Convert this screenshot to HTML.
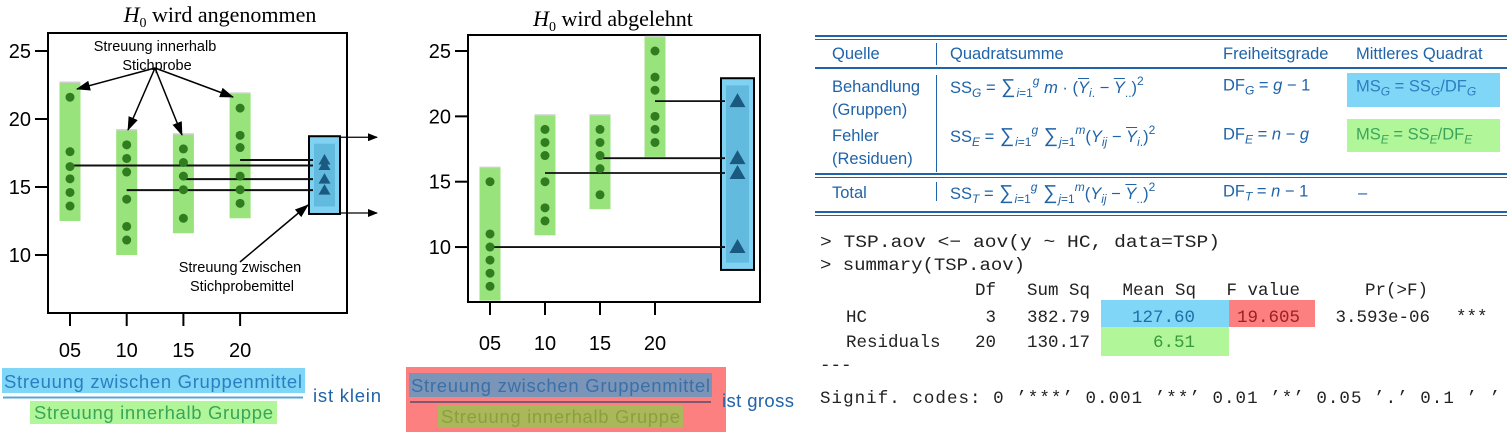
<!DOCTYPE html>
<html><head><meta charset="utf-8">
<style>
html,body{margin:0;padding:0;background:#fff;}
body{width:1509px;height:437px;position:relative;overflow:hidden;font-family:"Liberation Sans",sans-serif;}
.t{position:absolute;white-space:nowrap;color:#1f63a8;font-size:16.5px;line-height:1;transform:translateY(-50%);}
.t i{font-style:italic;}
.t sub{font-size:12px;vertical-align:-4px;}
.t sup{font-size:12px;vertical-align:8px;}
.t .sg{font-size:20px;margin:0 1px;}
.ov{text-decoration:overline;}
.rule{position:absolute;background:#1f63a8;}
.hl{position:absolute;}
</style></head>
<body>
<svg id="charts" width="1509" height="437" style="position:absolute;left:0;top:0" xmlns="http://www.w3.org/2000/svg">
<defs>
<marker id="ah" markerWidth="10" markerHeight="8" refX="9" refY="4" orient="auto" markerUnits="userSpaceOnUse"><path d="M0,0 L10,4 L0,8 Z" fill="#000"/></marker>
<marker id="ah2" markerWidth="14" markerHeight="10" refX="13" refY="5" orient="auto" markerUnits="userSpaceOnUse"><path d="M0,0 L14,5 L0,10 Z" fill="#000"/></marker>
</defs>
<g id="left"></g>
<g id="mid"></g>
<g>
<rect x="2" y="368" width="303" height="25" fill="#7fd6f7"/>
<text x="4" y="388" font-size="18.5" fill="#2a7fc0" textLength="298" font-family="Liberation Sans, sans-serif">Streuung zwischen Gruppenmittel</text>
<line x1="3" y1="397.5" x2="303" y2="397.5" stroke="#5aa5d5" stroke-width="2"/>
<rect x="30" y="401" width="247" height="23" fill="#b1f79a"/>
<text x="34" y="419" font-size="18.5" fill="#3aa55a" textLength="239" font-family="Liberation Sans, sans-serif">Streuung innerhalb Gruppe</text>
<text x="313" y="402" font-size="18.5" fill="#1f63a8" textLength="68" font-family="Liberation Sans, sans-serif">ist klein</text>
</g>
<g>
<rect x="406" y="367" width="320" height="65" fill="#fc8080"/>
<rect x="409" y="373" width="303" height="24" fill="#7b95b8"/>
<text x="411" y="392" font-size="18.5" fill="#3a6fa8" textLength="299" font-family="Liberation Sans, sans-serif">Streuung zwischen Gruppenmittel</text>
<line x1="410" y1="402" x2="711" y2="402" stroke="#5a4a6a" stroke-width="1.5"/>
<rect x="438" y="405" width="245" height="23" fill="#aab85a"/>
<text x="441" y="423" font-size="18.5" fill="#8aa040" textLength="239" font-family="Liberation Sans, sans-serif">Streuung innerhalb Gruppe</text>
<text x="722" y="407" font-size="18.5" fill="#1f63a8" textLength="72" font-family="Liberation Sans, sans-serif">ist gross</text>
</g>
<g font-family="Liberation Mono, monospace" font-size="17.5" fill="#222">
<text x="820" y="247" textLength="400" lengthAdjust="spacingAndGlyphs">&gt; TSP.aov &lt;− aov(y ~ HC, data=TSP)</text>
<text x="820" y="270" textLength="205" lengthAdjust="spacingAndGlyphs">&gt; summary(TSP.aov)</text>
<g text-anchor="end">
<text x="996" y="295">Df</text><text x="1090" y="295">Sum Sq</text><text x="1196" y="295">Mean Sq</text><text x="1300" y="295">F value</text><text x="1428" y="295">Pr(&gt;F)</text>
</g>
<rect x="1101" y="300" width="128" height="27" fill="#7fd6f7"/>
<rect x="1229" y="300" width="86" height="27" fill="#fc8080"/>
<rect x="1101" y="327" width="128" height="29" fill="#b1f79a"/>
<text x="846" y="322">HC</text>
<g text-anchor="end">
<text x="996" y="322">3</text><text x="1090" y="322">382.79</text><text x="1195" y="322" fill="#1f6fa8">127.60</text><text x="1300" y="322" fill="#a02020">19.605</text><text x="1430" y="322">3.593e-06</text>
</g>
<text x="1456" y="322">***</text>
<text x="846" y="347">Residuals</text>
<g text-anchor="end">
<text x="996" y="347">20</text><text x="1090" y="347">130.17</text><text x="1195" y="347" fill="#3a9a3a">6.51</text>
</g>
<text x="820" y="370">---</text>
<text x="820" y="403" textLength="680" lengthAdjust="spacing">Signif. codes: 0 ’***’ 0.001 ’**’ 0.01 ’*’ 0.05 ’.’ 0.1 ’ ’</text>
</g>
</svg>

<div>
<div class="rule" style="left:815px;top:35px;width:692px;height:2px"></div>
<div class="rule" style="left:815px;top:38.5px;width:692px;height:1px"></div>
<div class="t" style="left:832px;top:54px">Quelle</div>
<div class="rule" style="left:936px;top:43px;width:1px;height:22px"></div>
<div class="t" style="left:950px;top:54px">Quadratsumme</div>
<div class="t" style="left:1223px;top:54px">Freiheitsgrade</div>
<div class="t" style="left:1356px;top:54px">Mittleres Quadrat</div>
<div class="rule" style="left:815px;top:67px;width:692px;height:2px"></div>
<div class="hl" style="left:1347px;top:73px;width:153px;height:34px;background:#7fd6f7"></div>
<div class="hl" style="left:1347px;top:119px;width:153px;height:33px;background:#b1f79a"></div>
<div class="t" style="left:832px;top:87px">Behandlung</div>
<div class="t" style="left:832px;top:110px">(Gruppen)</div>
<div class="t" style="left:832px;top:136px">Fehler</div>
<div class="t" style="left:832px;top:159px">(Residuen)</div>
<div class="rule" style="left:936px;top:75px;width:1px;height:97px"></div>
<div class="t" style="left:950px;top:87px">SS<sub><i>G</i></sub> = <span class="sg">∑</span><sub><i>i</i>=1</sub><sup><i>g</i></sup> <i>m</i> · (<i class="ov">Y</i><sub><i>i</i>.</sub> − <i class="ov">Y</i><sub>..</sub>)<sup>2</sup></div>
<div class="t" style="left:950px;top:136px">SS<sub><i>E</i></sub> = <span class="sg">∑</span><sub><i>i</i>=1</sub><sup><i>g</i></sup> <span class="sg">∑</span><sub><i>j</i>=1</sub><sup><i>m</i></sup>(<i>Y</i><sub><i>ij</i></sub> − <i class="ov">Y</i><sub><i>i</i>.</sub>)<sup>2</sup></div>
<div class="t" style="left:1223px;top:87px">DF<sub><i>G</i></sub> = <i>g</i> − 1</div>
<div class="t" style="left:1223px;top:136px">DF<sub><i>E</i></sub> = <i>n</i> − <i>g</i></div>
<div class="t" style="left:1356px;top:88px;color:#2a7fc0">MS<sub><i>G</i></sub> = SS<sub><i>G</i></sub>/DF<sub><i>G</i></sub></div>
<div class="t" style="left:1356px;top:136px;color:#3aa55a">MS<sub><i>E</i></sub> = SS<sub><i>E</i></sub>/DF<sub><i>E</i></sub></div>
<div class="rule" style="left:815px;top:173px;width:692px;height:2px"></div>
<div class="rule" style="left:815px;top:176.5px;width:692px;height:1px"></div>
<div class="t" style="left:832px;top:193px">Total</div>
<div class="rule" style="left:936px;top:182px;width:1px;height:19px"></div>
<div class="t" style="left:950px;top:193px">SS<sub><i>T</i></sub> = <span class="sg">∑</span><sub><i>i</i>=1</sub><sup><i>g</i></sup> <span class="sg">∑</span><sub><i>j</i>=1</sub><sup><i>m</i></sup>(<i>Y</i><sub><i>ij</i></sub> − <i class="ov">Y</i><sub>..</sub>)<sup>2</sup></div>
<div class="t" style="left:1223px;top:193px">DF<sub><i>T</i></sub> = <i>n</i> − 1</div>
<div class="t" style="left:1358px;top:193px">–</div>
<div class="rule" style="left:815px;top:211px;width:692px;height:2px"></div>
<div class="rule" style="left:815px;top:214.5px;width:692px;height:1px"></div>
</div>

<script>
const groups = ["05","10","15","20"];
const yTicks = [10,15,20,25];
const leftValues = [
  [21.6,17.6,16.5,15.6,14.6,13.6],
  [18.1,17.1,16.1,14.1,12.1,11.1],
  [17.8,16.8,15.8,14.8,12.7],
  [20.8,18.8,17.9,15.8,14.8,13.8]
];
const midValues = [
  [15,11,10,9,8,7],
  [19,18,17,15,13,12],
  [19,18,17,16,14],
  [25,23,22,20,19,18]
];
const NS='http://www.w3.org/2000/svg';
function mk(parent,tag,attrs,text){
  const e=document.createElementNS(NS,tag);
  for(const k in attrs) e.setAttribute(k,attrs[k]);
  if(text!==undefined) e.textContent=text;
  parent.appendChild(e); return e;
}
function drawChart(g,cfg,values,title){
  const y=v=>cfg.y25+(25-v)*cfg.unit;
  const x=i=>cfg.x0+i*cfg.dx;
  const t=mk(g,'text',{x:cfg.titleX,y:cfg.titleY,'font-family':'Liberation Serif, serif','font-size':22,'text-anchor':'middle'});
  
  
  mk(t,'tspan',{'font-style':'italic'},'H');
  mk(t,'tspan',{'font-size':14,dy:5},'0');
  mk(t,'tspan',{dy:-5},' '+title);
  const frame=mk(g,'rect',{x:cfg.bx1,y:cfg.by1,width:cfg.bx2-cfg.bx1,height:cfg.by2-cfg.by1,fill:'none',stroke:'#000','stroke-width':2});
  
  
  yTicks.forEach(v=>{
    const l=mk(g,'line',{x1:cfg.bx1-13,x2:cfg.bx1,y1:y(v),y2:y(v),stroke:'#000','stroke-width':2});
    
    
    const tl=mk(g,'text',{x:cfg.bx1-17,y:y(v)+7,'text-anchor':'end','font-size':20},String(v));
    
    
  });
  const means=values.map(a=>a.reduce((s,v)=>s+v,0)/a.length);
  const mx=Math.max(...means), mn=Math.min(...means);
  values.forEach((arr,i)=>{
    const hi=Math.max(...arr)+1.1, lo=Math.min(...arr)-1.1;
    const top=Math.max(y(hi),cfg.by1+1), bot=Math.min(y(lo),cfg.by2-1);
    const r=mk(g,'rect',{x:x(i)-10.5,y:top,width:21,height:bot-top,fill:'#99e37c'});
    
    
    mk(g,'line',{x1:x(i)-10.5,x2:x(i)+10.5,y1:top,y2:top,stroke:'#cfcfcf','stroke-width':1.5});
    const tk=mk(g,'line',{x1:x(i),x2:x(i),y1:cfg.by2,y2:cfg.by2+13,stroke:'#000','stroke-width':2});
    
    
    const xl=mk(g,'text',{x:x(i),y:cfg.xlabY,'text-anchor':'middle','font-size':20},groups[i]);
    
    
  });
  const top=y(mx+1.75), bot=y(mn-1.75);
  const bb=mk(g,'rect',{x:cfg.mbx1,y:top,width:cfg.mbx2-cfg.mbx1,height:bot-top,fill:'#7fd2f2',stroke:'#000','stroke-width':2});
  
  
  mk(g,'rect',{x:cfg.mbx1+5,y:y(mx+1.2),width:cfg.mbx2-cfg.mbx1-10,height:y(mn-1.2)-y(mx+1.2),fill:'#62bbdf'});
  values.forEach((arr,i)=>{
    const m=means[i];
    const ml=mk(g,'line',{x1:x(i),x2:cfg.mbx1+4,y1:y(m),y2:y(m),stroke:'#111','stroke-width':cfg.lw});
    
    
    arr.forEach(v=>{
      const c=mk(g,'circle',{cx:x(i),cy:y(v),r:4.5,fill:'#2f7d1f'});
      
      
    });
    const tx=(cfg.mbx1+cfg.mbx2)/2, ty=y(m), s=cfg.tri;
    const tr=mk(g,'path',{d:`M${tx},${ty-s} L${tx+s},${ty+s*0.75} L${tx-s},${ty+s*0.75} Z`,fill:'#1b5a80'});
    
    
  });
  return {top,bot};
}
const L=document.getElementById('left');
const lb=drawChart(L,{y25:51,unit:13.6,x0:70,dx:56.7,bx1:48,bx2:347,by1:33,by2:313,xlabY:357,titleX:220,titleY:22,mbx1:309,mbx2:340,tri:6,lw:2},leftValues,'wird angenommen');
[lb.top+1,lb.bot-1].forEach(yy=>{
  const a=mk(L,'line',{x1:340,x2:377,y1:yy,y2:yy,stroke:'#000','stroke-width':1.3,'marker-end':'url(#ah)'});
  
  
});
const ann=mk(L,'g',{'font-size':14.5,'text-anchor':'middle'});


mk(ann,'text',{x:155,y:51},'Streuung innerhalb');
mk(ann,'text',{x:157,y:70},'Stichprobe');
mk(ann,'text',{x:240,y:272},'Streuung zwischen');
mk(ann,'text',{x:242,y:291},'Stichprobemittel');
[[77,89],[128,130],[182,135],[233,97]].forEach(p=>{
  const a=mk(L,'line',{x1:155,y1:68,x2:p[0],y2:p[1],stroke:'#000','stroke-width':1.5,'marker-end':'url(#ah2)'});
  
  
});
const ba=mk(L,'line',{x1:240,y1:262,x2:308,y2:205,stroke:'#000','stroke-width':1.5,'marker-end':'url(#ah2)'});



const M=document.getElementById('mid');
drawChart(M,{y25:51,unit:13.07,x0:490,dx:55,bx1:468,bx2:760,by1:35,by2:302,xlabY:350,titleX:613,titleY:26,mbx1:721,mbx2:754,tri:8,lw:1.8},midValues,'wird abgelehnt');
</script>
</body></html>
